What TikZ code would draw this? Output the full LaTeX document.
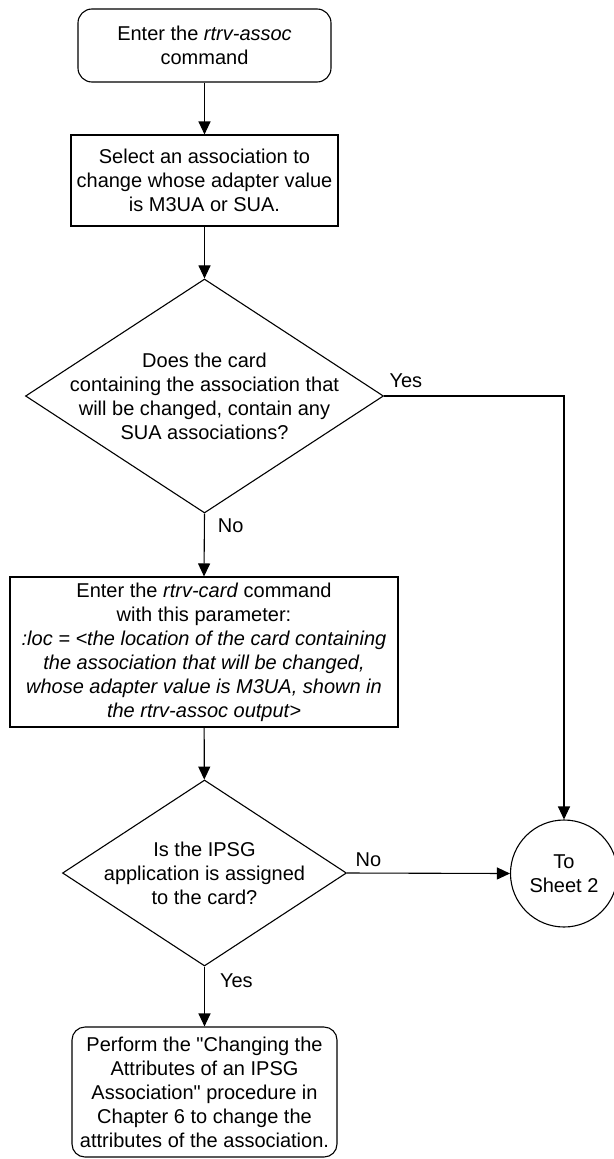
\documentclass[tikz,border=0pt]{standalone}
\usepackage{fontspec}
\setmainfont{Liberation Sans}[Ligatures=TeXOff]
\usetikzlibrary{shapes.geometric,arrows.meta}
\begin{document}
\begin{tikzpicture}[x=1pt,y=-1pt,
  every node/.style={font=\fontsize{20pt}{24pt}\selectfont},
  base/.style={draw, line width=1.1pt, inner sep=0pt, align=center},
  termbox/.style={base, rectangle, rounded corners=14pt},
  procbox/.style={base, rectangle},
  decision/.style={base, diamond},
  offpage/.style={base, circle},
  conn/.style={-{Triangle[length=13pt,width=12pt]}, line width=1.1pt},
  lbl/.style={inner sep=0pt, anchor=south west}
]
\useasboundingbox (0,0) rectangle (613,1159);

\node[termbox, minimum width=253pt, minimum height=73pt] (start) at (204.5,45.5)
  {Enter the \textit{rtrv-assoc}\\command};
\node[procbox, minimum width=267pt, minimum height=91pt] (select) at (204.5,180.5)
  {Select an association to\\change whose adapter value\\is M3UA or SUA.};
\node[decision, minimum width=358pt, minimum height=234pt,
  label={[align=center, inner sep=0pt]center:{Does the card\\containing the association that\\will be changed, contain any\\SUA associations?}}] (d1) at (204.5,396) {};
\node[procbox, minimum width=388pt, minimum height=150pt] (card) at (204,652)
  {Enter the \textit{rtrv-card} command\\with this parameter:\\
   \textit{:loc = <the location of the card containing}\\
   \textit{the association that will be changed,}\\
   \textit{whose adapter value is M3UA, shown in}\\
   \textit{the rtrv-assoc output>}};
\node[decision, minimum width=284pt, minimum height=186pt,
  label={[align=center, inner sep=0pt]center:{Is the IPSG\\application is assigned\\to the card?}}] (d2) at (204.5,873) {};
\node[offpage, minimum size=107pt] (sheet) at (564,873.5) {To\\Sheet 2};
\node[termbox, rounded corners=13pt, minimum width=265pt, minimum height=130pt] (final) at (204.5,1092)
  {Perform the "Changing the\\Attributes of an IPSG\\Association" procedure in\\Chapter 6 to change the\\attributes of the association.};

\draw[conn] (start) -- (select);
\draw[conn] (select) -- (d1);
\draw[conn] (d1.east) -| node[lbl, pos=0, xshift=5pt, yshift=8pt] {Yes} (sheet.north);
\draw[conn] (d1.south) -- node[lbl, pos=0.31, xshift=13pt] {No} (card.north);
\draw[conn] (card) -- (d2);
\draw[conn] (d2.east) -- node[lbl, pos=0, xshift=8pt, yshift=6pt] {No} (sheet.west);
\draw[conn] (d2.south) -- node[lbl, pos=0.36, xshift=15pt] {Yes} (final.north);
\end{tikzpicture}
\end{document}
